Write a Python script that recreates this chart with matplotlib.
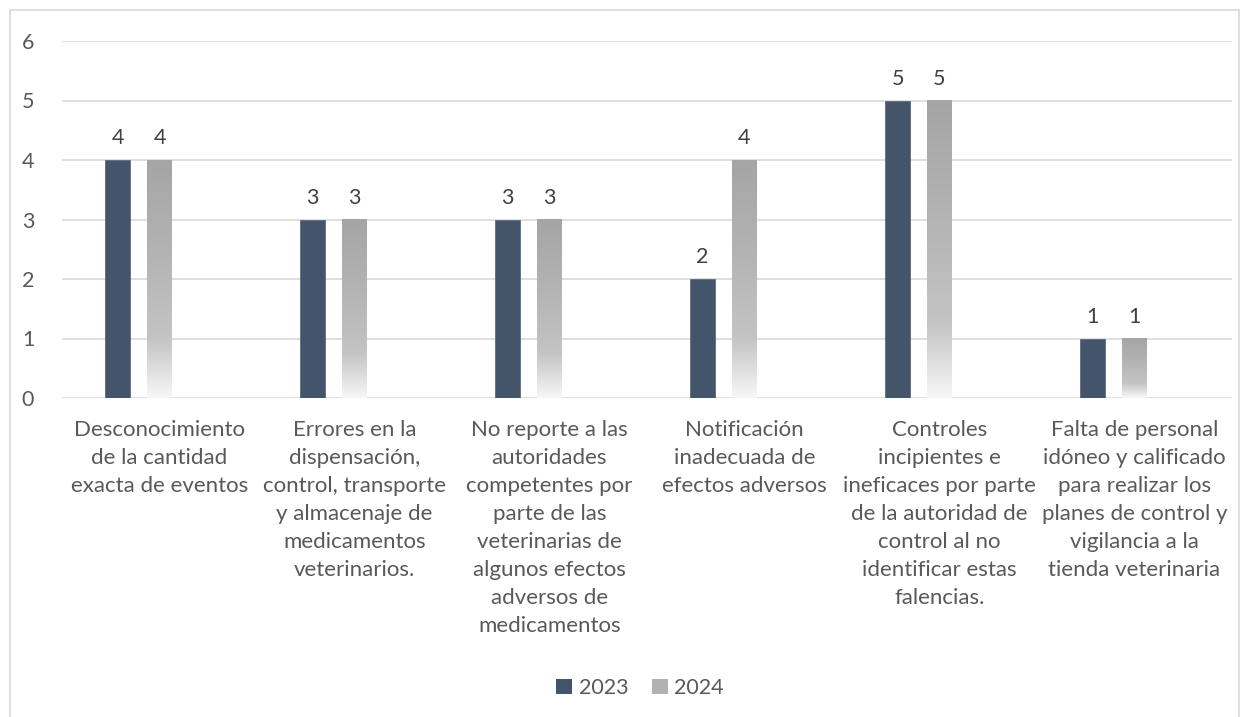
import matplotlib
matplotlib.use("Agg")
import matplotlib.pyplot as plt
import numpy as np
from matplotlib.patches import Rectangle
from matplotlib.colors import LinearSegmentedColormap

plt.rcParams['font.family'] = ['Lato', 'DejaVu Sans']

categories = [
    "Desconocimiento\nde la cantidad\nexacta de eventos",
    "Errores en la\ndispensación,\ncontrol, transporte\ny almacenaje de\nmedicamentos\nveterinarios.",
    "No reporte a las\nautoridades\ncompetentes por\nparte de las\nveterinarias de\nalgunos efectos\nadversos de\nmedicamentos",
    "Notificación\ninadecuada de\nefectos adversos",
    "Controles\nincipientes e\nineficaces por parte\nde la autoridad de\ncontrol al no\nidentificar estas\nfalencias.",
    "Falta de personal\nidóneo y calificado\npara realizar los\nplanes de control y\nvigilancia a la\ntienda veterinaria",
]
series_names = ["2023", "2024"]
values_2023 = [4, 3, 3, 2, 5, 1]
values_2024 = [4, 3, 3, 4, 5, 1]
y_ticks = [0, 1, 2, 3, 4, 5, 6]

W, H = 1249, 717
fig = plt.figure(figsize=(W / 100, H / 100), dpi=100)
ax = fig.add_axes([62 / W, 1 - 398 / H, (1232 - 62) / W, (398 - 41) / H])

x = np.arange(len(categories))
bw = 0.128
off = 0.215
dark = "#44546a"
txt = "#595959"

cmap = LinearSegmentedColormap.from_list(
    "g", [(0.0, "#f7f7f7"), (0.25, "#c4c4c4"), (0.6, "#b4b4b4"), (1.0, "#a5a5a5")])
grad = np.linspace(0, 1, 256).reshape(-1, 1)

for i, (a, b) in enumerate(zip(values_2023, values_2024)):
    ax.bar(x[i] - off, a, width=bw, color=dark, edgecolor="#5b6b80", linewidth=0.6, zorder=3)
    x0 = x[i] - bw / 2
    ax.imshow(grad, cmap=cmap, origin="lower", aspect="auto",
              extent=(x0, x0 + bw, 0, b), zorder=3)
    ax.text(x[i] - off, a + 0.2, str(a), ha="center", va="bottom", fontsize=15.5, color="#404040")
    ax.text(x[i], b + 0.2, str(b), ha="center", va="bottom", fontsize=15.5, color="#404040")

ax.set_xlim(-0.5, len(categories) - 0.5)
ax.set_ylim(0, 6)
ax.set_yticks(y_ticks)
ax.set_yticklabels([str(t) for t in y_ticks], fontsize=15.5, color=txt)
ax.set_xticks(x)
ax.set_xticklabels(categories, fontsize=16, color=txt, linespacing=1.5, va="top")
ax.tick_params(axis="both", length=0)
ax.tick_params(axis="y", pad=20)
ax.tick_params(axis="x", pad=16)
ax.grid(axis="y", color="#d9d9d9", linewidth=1.2, zorder=0)
ax.set_axisbelow(True)
for s in ax.spines.values():
    s.set_visible(False)

h1 = Rectangle((0, 0), 1, 1, facecolor=dark)
h2 = Rectangle((0, 0), 1, 1, facecolor="#b2b2b2")
fig.legend([h1, h2], series_names, loc="center", bbox_to_anchor=(640 / W, 1 - 688 / H),
           ncol=2, frameon=False, fontsize=15.5, handlelength=0.75, handleheight=0.75,
           handletextpad=0.3, columnspacing=1.1, labelcolor=txt)

fig.patches.append(Rectangle((10 / W, -0.01), (1239 - 10) / W, 1 - 10 / H + 0.01,
                             transform=fig.transFigure, fill=False,
                             edgecolor="#d9d9d9", linewidth=1.2))

fig.savefig("out.png", dpi=100, facecolor="white")
